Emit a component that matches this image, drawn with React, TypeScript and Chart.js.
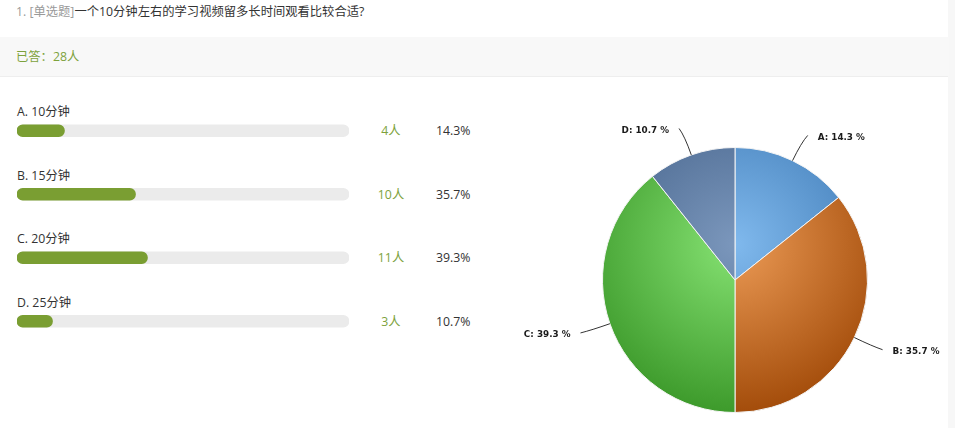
import React, { useEffect, useRef } from "react";
import { Chart, registerables } from "chart.js";

Chart.register(...registerables);

const questionNo = "1. [单选题]";
const questionText = "一个10分钟左右的学习视频留多长时间观看比较合适?";
const answeredCount = 28;
const optionLetters = ["A", "B", "C", "D"];
const optionLabels = ["A. 10分钟", "B. 15分钟", "C. 20分钟", "D. 25分钟"];
const counts = [4, 10, 11, 3];
const percents = [14.3, 35.7, 39.3, 10.7];
const trackValues = [100, 100, 100, 100];
const pieLight = ["#80b9ed", "#ec9b56", "#86e273", "#7b97bc"];
const pieDark = ["#3f7ab5", "#a34c0a", "#3d9a2b", "#46648c"];

const FONT = "'Open Sans', 'Noto Sans CJK SC', sans-serif";
const GREEN = "#7a9e32";

const pieLabelPlugin = {
  id: "pieLabels",
  afterDatasetsDraw(chart: any) {
    const ctx = chart.ctx;
    const meta = chart.getDatasetMeta(0);
    ctx.save();
    ctx.font = "bold 8.8px 'DejaVu Sans', Verdana, sans-serif";
    ctx.fillStyle = "#1a1a1a";
    ctx.strokeStyle = "#333333";
    ctx.lineWidth = 1;
    ctx.textBaseline = "middle";
    meta.data.forEach((arc: any, i: number) => {
      const p = arc.getProps(["x", "y", "startAngle", "endAngle", "outerRadius"], true);
      const mid = (p.startAngle + p.endAngle) / 2;
      const r = p.outerRadius;
      const cos = Math.cos(mid);
      const sin = Math.sin(mid);
      const side = cos >= 0 ? 1 : -1;
      const sx = p.x + cos * r;
      const sy = p.y + sin * r;
      const cx = p.x + cos * (r + 20);
      const cy = p.y + sin * (r + 20);
      const ex = p.x + cos * (r + 28) + side * 3;
      const ey = p.y + sin * (r + 28);
      ctx.beginPath();
      ctx.moveTo(sx, sy);
      ctx.quadraticCurveTo(cx, cy, ex, ey);
      ctx.stroke();
      const text = `${optionLetters[i]}: ${percents[i]} %`;
      ctx.textAlign = side > 0 ? "left" : "right";
      ctx.fillText(text, ex + side * 10, ey + 2);
    });
    ctx.restore();
  },
};

function PieChart() {
  const ref = useRef<HTMLCanvasElement>(null);
  useEffect(() => {
    if (!ref.current) return;
    const chart = new Chart(ref.current, {
      type: "pie",
      data: {
        labels: optionLetters,
        datasets: [
          {
            data: percents,
            backgroundColor: (c: any) => {
              const i = c.dataIndex;
              const area = c.chart.chartArea;
              if (!area) return pieLight[i];
              const cx = (area.left + area.right) / 2;
              const cy = (area.top + area.bottom) / 2;
              const r = Math.min(area.right - area.left, area.bottom - area.top) / 2;
              const gy = cy - 0.27 * r;
              const g = c.chart.ctx.createRadialGradient(cx, gy, 0, cx, gy, 1.27 * r);
              g.addColorStop(0, pieLight[i]);
              g.addColorStop(1, pieDark[i]);
              return g;
            },
            borderColor: "#f4f4f4",
            borderWidth: 1,
          },
        ],
      },
      options: {
        animation: false,
        responsive: false,
        maintainAspectRatio: false,
        layout: { padding: { left: 82, right: 80, top: 70, bottom: 15 } },
        plugins: { legend: { display: false }, tooltip: { enabled: false } },
      },
      plugins: [pieLabelPlugin],
    } as any);
    return () => chart.destroy();
  }, []);
  return (
    <canvas
      ref={ref}
      width={428}
      height={351}
      style={{ position: "absolute", left: 520, top: 77, width: 428, height: 351 }}
    />
  );
}

function BarChart() {
  const ref = useRef<HTMLCanvasElement>(null);
  useEffect(() => {
    if (!ref.current) return;
    const chart = new Chart(ref.current, {
      type: "bar",
      data: {
        labels: optionLabels,
        datasets: [
          {
            data: percents,
            backgroundColor: GREEN,
            barThickness: 12,
            borderRadius: 6,
            borderSkipped: false,
            grouped: false,
            order: 0,
          },
          {
            data: trackValues,
            backgroundColor: "#ebebeb",
            barThickness: 12,
            borderRadius: 6,
            borderSkipped: false,
            grouped: false,
            order: 1,
          },
        ],
      },
      options: {
        indexAxis: "y",
        animation: false,
        responsive: false,
        maintainAspectRatio: false,
        layout: { padding: 0 },
        scales: {
          x: { display: false, min: 0, max: 100, grid: { display: false } },
          y: { display: false, grid: { display: false }, offset: true },
        },
        plugins: { legend: { display: false }, tooltip: { enabled: false } },
      },
    } as any);
    return () => chart.destroy();
  }, []);
  return (
    <canvas
      ref={ref}
      width={332}
      height={254}
      style={{ position: "absolute", left: 17, top: 99, width: 332, height: 254 }}
    />
  );
}

export default function App() {
  const rowStep = 63.5;
  return (
    <div
      style={{
        position: "absolute",
        left: 0,
        top: 0,
        width: 955,
        height: 428,
        background: "#f7f7f7",
        overflow: "hidden",
        fontFamily: FONT,
        fontSize: 12.3,
      }}
    >
      <div style={{ position: "absolute", left: 0, top: 0, width: 948, height: 37, background: "#ffffff" }}>
        <div style={{ position: "absolute", left: 16, top: 3, lineHeight: "18px", whiteSpace: "nowrap" }}>
          <span style={{ color: "#9a9a9a" }}>{questionNo}</span>
          <span style={{ color: "#333333" }}>{questionText}</span>
        </div>
      </div>
      <div style={{ position: "absolute", left: 0, top: 37, width: 949, height: 39, background: "#f8f8f8" }}>
        <div style={{ position: "absolute", left: 16, top: 11, lineHeight: "18px", color: "#7da23c" }}>
          已答：{answeredCount}人
        </div>
      </div>
      <div
        style={{
          position: "absolute",
          left: 0,
          top: 76,
          width: 948,
          height: 352,
          background: "#ffffff",
          borderTop: "1px solid #eeeeee",
        }}
      >
        {optionLabels.map((lab, i) => (
          <React.Fragment key={lab}>
            <div
              style={{
                position: "absolute",
                left: 17,
                top: 112 + rowStep * i - 9 - 77,
                lineHeight: "18px",
                color: "#333333",
                whiteSpace: "nowrap",
              }}
            >
              {lab}
            </div>
            <div
              style={{
                position: "absolute",
                left: 360,
                width: 62,
                textAlign: "center",
                top: 131 + rowStep * i - 9 - 77,
                lineHeight: "18px",
                color: "#7da23c",
              }}
            >
              {counts[i]}人
            </div>
            <div
              style={{
                position: "absolute",
                left: 436,
                top: 131 + rowStep * i - 9 - 77,
                lineHeight: "18px",
                color: "#333333",
              }}
            >
              {percents[i].toFixed(1)}%
            </div>
          </React.Fragment>
        ))}
      </div>
      <BarChart />
      <PieChart />
    </div>
  );
}
